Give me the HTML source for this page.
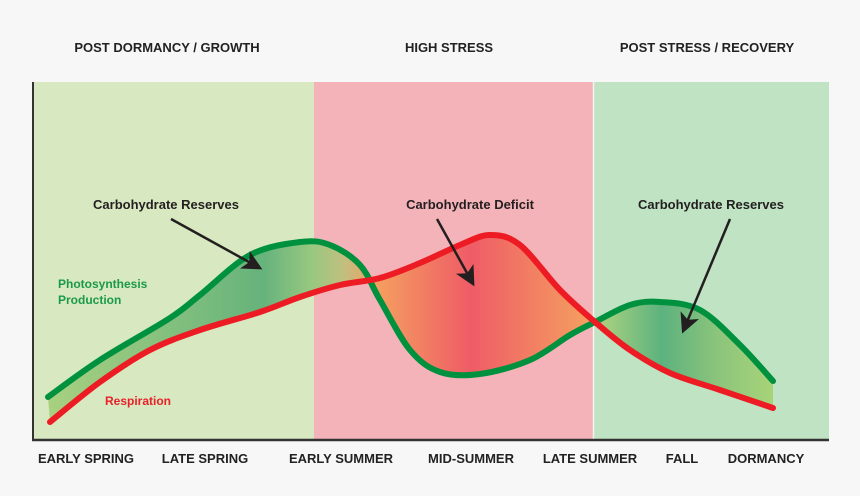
<!DOCTYPE html>
<html><head><meta charset="utf-8"><style>
body{margin:0;background:#f7f7f7;}
svg{display:block;font-family:"Liberation Sans",sans-serif;font-weight:bold;}
</style></head><body>
<svg id="chart" width="860" height="496" viewBox="0 0 860 496">
<rect x="0" y="0" width="860" height="496" fill="#f7f7f7"/>
<rect x="34" y="82" width="280" height="358" fill="#d8e8c0"/>
<rect x="314" y="82" width="279" height="358" fill="#f4b3b8"/>
<rect x="593" y="82" width="236" height="358" fill="#bfe3c3"/>
<line x1="593.5" y1="82" x2="593.5" y2="440" stroke="#f4f4f0" stroke-width="1.5"/>
<defs>
<linearGradient id="fillg" gradientUnits="userSpaceOnUse" x1="33" y1="0" x2="829" y2="0">
<stop offset="0.02" stop-color="#a8d080"/>
<stop offset="0.29" stop-color="#66b37c"/>
<stop offset="0.35" stop-color="#98c880"/>
<stop offset="0.39" stop-color="#c0bf80"/>
<stop offset="0.43" stop-color="#f4a060"/>
<stop offset="0.55" stop-color="#ef5c66"/>
<stop offset="0.70" stop-color="#f4a060"/>
<stop offset="0.72" stop-color="#a4cf80"/>
<stop offset="0.79" stop-color="#5cb27e"/>
<stop offset="0.86" stop-color="#8cc47c"/>
<stop offset="0.93" stop-color="#a8d478"/>
</linearGradient>
<marker id="arr" markerWidth="8" markerHeight="8" refX="6" refY="4" orient="auto" markerUnits="strokeWidth"><path d="M0,0 L8,4 L0,8 L2,4 z" fill="#231f20"/></marker>
</defs>
<g id="plot"></g>
<line x1="33" y1="82" x2="33" y2="441" stroke="#333" stroke-width="2"/>
<line x1="32" y1="440" x2="829" y2="440" stroke="#333" stroke-width="2.5"/>
<g font-size="13" fill="#222">
<text x="167" y="52" text-anchor="middle">POST DORMANCY / GROWTH</text>
<text x="449" y="52" text-anchor="middle">HIGH STRESS</text>
<text x="707" y="52" text-anchor="middle">POST STRESS / RECOVERY</text>
</g>
<g id="xticks" font-size="13" fill="#222"></g>
<g font-size="13" fill="#231f20">
<text x="166" y="209" text-anchor="middle">Carbohydrate Reserves</text>
<text x="470" y="209" text-anchor="middle">Carbohydrate Deficit</text>
<text x="711" y="209" text-anchor="middle">Carbohydrate Reserves</text>
</g>
<g stroke="#231f20" stroke-width="2.5" fill="none">
<line x1="171" y1="219" x2="258" y2="267" marker-end="url(#arr)"/>
<line x1="437" y1="219" x2="472" y2="282" marker-end="url(#arr)"/>
<line x1="730" y1="219" x2="684" y2="329" marker-end="url(#arr)"/>
</g>
<text x="58" y="288" font-size="12" fill="#1a9a48">Photosynthesis</text>
<text x="58" y="304" font-size="12" fill="#1a9a48">Production</text>
<text x="105" y="405" font-size="12" fill="#e8202a">Respiration</text>
</svg>
<script>
const photoX=[15,67,137,167,217,267,297,327,347,377,407,447,497,537,562,597,627,667,707,740];
const photoY=[43,80,122,145,185,198,195,175,140,90,68,66,80,105,118,135,138,130,95,59];
const respX=[17,67,117,167,227,267,307,347,387,427,457,487,527,562,597,637,687,740];
const respY=[18,58,90,110,128,143,155,162,177,195,205,195,150,118,90,67,50,32];
const tickLabels=["EARLY SPRING","LATE SPRING","EARLY SUMMER","MID-SUMMER","LATE SUMMER","FALL","DORMANCY"];
const tickPos=[53,172,308,438,557,647,733];
const sx=v=>33+v, sy=v=>440-v;
function pts(xs,ys){return xs.map((x,i)=>[sx(x),sy(ys[i])]);}
function smooth(p){let d="M"+p[0][0]+","+p[0][1];for(let i=0;i<p.length-1;i++){const p0=p[i-1]||p[i],p1=p[i],p2=p[i+1],p3=p[i+2]||p2;
d+=` C${p1[0]+(p2[0]-p0[0])/6},${p1[1]+(p2[1]-p0[1])/6} ${p2[0]-(p3[0]-p1[0])/6},${p2[1]-(p3[1]-p1[1])/6} ${p2[0]},${p2[1]}`;}return d;}
const NS="http://www.w3.org/2000/svg",plot=document.getElementById("plot");
const gp=pts(photoX,photoY),rp=pts(respX,respY);
const gd=smooth(gp),rd=smooth(rp.slice().reverse());
const fill=document.createElementNS(NS,"path");
fill.setAttribute("d",gd+" L"+rd.slice(1)+" Z");
fill.setAttribute("fill","url(#fillg)");


plot.appendChild(fill);
const g=document.createElementNS(NS,"path");
g.setAttribute("d",gd);g.setAttribute("fill","none");g.setAttribute("stroke","#00913f");g.setAttribute("stroke-width","6");g.setAttribute("stroke-linecap","round");


plot.appendChild(g);
const r=document.createElementNS(NS,"path");
r.setAttribute("d",smooth(rp));r.setAttribute("fill","none");r.setAttribute("stroke","#ed1c24");r.setAttribute("stroke-width","6");r.setAttribute("stroke-linecap","round");


plot.appendChild(r);
const xt=document.getElementById("xticks");
tickLabels.forEach((t,i)=>{const e=document.createElementNS(NS,"text");e.setAttribute("x",tickPos[i]+33-33);e.setAttribute("y",463);e.setAttribute("text-anchor","middle");e.textContent=t;


xt.appendChild(e);});
// adjust tick x to centers
[86,205,341,471,590,682,766].forEach((c,i)=>xt.children[i].setAttribute("x",c));
</script>
</body></html>
